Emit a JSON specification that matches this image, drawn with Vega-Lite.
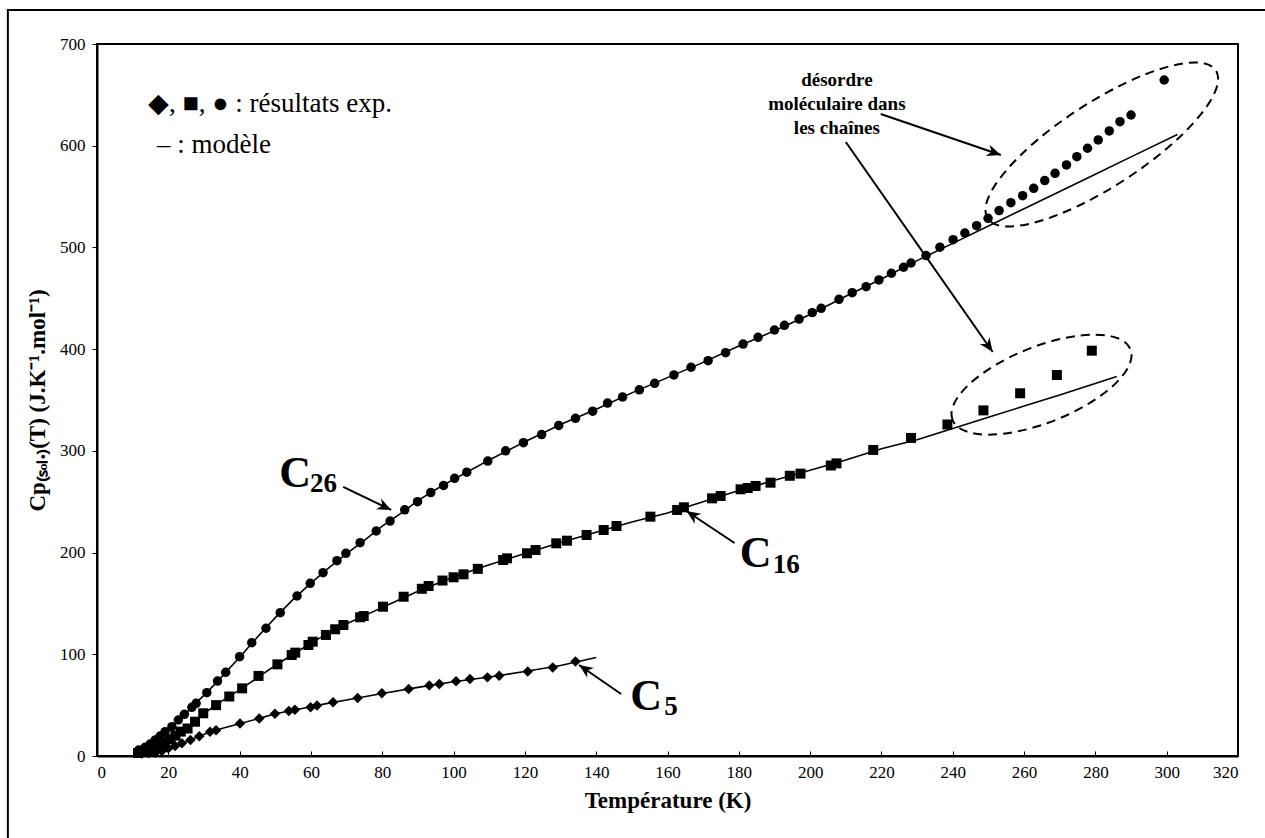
{
  "$schema": "https://vega.github.io/schema/vega-lite/v6.json",
  "width": 1141,
  "height": 712,
  "autosize": "none",
  "padding": {"left": 97, "top": 44, "right": 27, "bottom": 82},
  "background": "white",
  "config": {
    "view": {"stroke": "black", "strokeWidth": 2},
    "font": "Liberation Serif"
  },
  "datasets": {
    "pts": [
      {"s":"C26","T":11.7,"Cp":5.9},{"s":"C26","T":13.5,"Cp":8.5},{"s":"C26","T":14.9,"Cp":11.8},{"s":"C26","T":16.3,"Cp":15.7},{"s":"C26","T":17.7,"Cp":19.6},{"s":"C26","T":19.1,"Cp":23.9},{"s":"C26","T":21,"Cp":28.8},{"s":"C26","T":22.8,"Cp":35.4},{"s":"C26","T":24.5,"Cp":41},{"s":"C26","T":26.6,"Cp":47.9},{"s":"C26","T":27.8,"Cp":51.8},{"s":"C26","T":30.8,"Cp":62.3},{"s":"C26","T":33.8,"Cp":73.7},{"s":"C26","T":36.1,"Cp":82.3},{"s":"C26","T":40,"Cp":97.6},{"s":"C26","T":43.4,"Cp":111.4},{"s":"C26","T":47.4,"Cp":125.6},{"s":"C26","T":51.4,"Cp":140.9},{"s":"C26","T":56.1,"Cp":157.3},{"s":"C26","T":59.8,"Cp":169.8},{"s":"C26","T":63.4,"Cp":180.2},{"s":"C26","T":67.3,"Cp":192},{"s":"C26","T":69.8,"Cp":199.3},{"s":"C26","T":73.8,"Cp":209.7},{"s":"C26","T":78.3,"Cp":221.2},{"s":"C26","T":82.2,"Cp":231},{"s":"C26","T":86.3,"Cp":242},{"s":"C26","T":89.9,"Cp":250},{"s":"C26","T":93.6,"Cp":259},{"s":"C26","T":97.2,"Cp":266},{"s":"C26","T":100.3,"Cp":273},{"s":"C26","T":103.7,"Cp":279},{"s":"C26","T":109.6,"Cp":290},{"s":"C26","T":114.6,"Cp":300},{"s":"C26","T":119.6,"Cp":308},{"s":"C26","T":124.7,"Cp":316},{"s":"C26","T":129.5,"Cp":325},{"s":"C26","T":134.2,"Cp":332},{"s":"C26","T":139,"Cp":339},{"s":"C26","T":143.2,"Cp":347},{"s":"C26","T":147.4,"Cp":353},{"s":"C26","T":152.1,"Cp":360},{"s":"C26","T":156.4,"Cp":366.4},{"s":"C26","T":161.8,"Cp":374.6},{"s":"C26","T":166.6,"Cp":382.2},{"s":"C26","T":171.4,"Cp":388.7},{"s":"C26","T":176.3,"Cp":396.5},{"s":"C26","T":181.2,"Cp":405},{"s":"C26","T":185.4,"Cp":411.6},{"s":"C26","T":190,"Cp":418.8},{"s":"C26","T":192.8,"Cp":423.4},{"s":"C26","T":196.9,"Cp":429.6},{"s":"C26","T":200.6,"Cp":435.9},{"s":"C26","T":203.1,"Cp":440.1},{"s":"C26","T":208.1,"Cp":449},{"s":"C26","T":211.8,"Cp":455.5},{"s":"C26","T":215.7,"Cp":461.4},{"s":"C26","T":219.3,"Cp":468},{"s":"C26","T":222.8,"Cp":474.6},{"s":"C26","T":226.2,"Cp":480.5},{"s":"C26","T":228.3,"Cp":484.7},{"s":"C26","T":232.5,"Cp":492},{"s":"C26","T":236.4,"Cp":500.2},{"s":"C26","T":240.1,"Cp":507.6},{"s":"C26","T":243.4,"Cp":514.2},{"s":"C26","T":246.7,"Cp":521.4},{"s":"C26","T":249.9,"Cp":528.6},{"s":"C26","T":253,"Cp":536.2},{"s":"C26","T":256.3,"Cp":544},{"s":"C26","T":259.6,"Cp":550.9},{"s":"C26","T":262.7,"Cp":558.1},{"s":"C26","T":265.8,"Cp":565.7},{"s":"C26","T":268.7,"Cp":572.9},{"s":"C26","T":271.9,"Cp":581.1},{"s":"C26","T":274.8,"Cp":589.2},{"s":"C26","T":277.8,"Cp":597.5},{"s":"C26","T":280.8,"Cp":605.7},{"s":"C26","T":283.9,"Cp":614.5},{"s":"C26","T":286.9,"Cp":623.6},{"s":"C26","T":290,"Cp":630.2},{"s":"C26","T":299.3,"Cp":664.6},
      {"s":"C16","T":11.5,"Cp":3},{"s":"C16","T":13,"Cp":4.5},{"s":"C16","T":14.5,"Cp":6.5},{"s":"C16","T":16,"Cp":8.5},{"s":"C16","T":17.5,"Cp":11},{"s":"C16","T":19,"Cp":13.5},{"s":"C16","T":20.5,"Cp":16.5},{"s":"C16","T":22,"Cp":20},{"s":"C16","T":23.5,"Cp":24},{"s":"C16","T":25.4,"Cp":27},{"s":"C16","T":27.5,"Cp":33.7},{"s":"C16","T":29.8,"Cp":42},{"s":"C16","T":33.4,"Cp":50},{"s":"C16","T":37.1,"Cp":58.5},{"s":"C16","T":40.7,"Cp":66.5},{"s":"C16","T":45.3,"Cp":78.7},{"s":"C16","T":50.6,"Cp":90.1},{"s":"C16","T":54.6,"Cp":99.3},{"s":"C16","T":55.6,"Cp":101.6},{"s":"C16","T":59.3,"Cp":109.1},{"s":"C16","T":60.5,"Cp":112.4},{"s":"C16","T":64.2,"Cp":119},{"s":"C16","T":66.8,"Cp":124.6},{"s":"C16","T":69.1,"Cp":128.8},{"s":"C16","T":73.8,"Cp":136.4},{"s":"C16","T":74.8,"Cp":137.6},{"s":"C16","T":80.2,"Cp":146.8},{"s":"C16","T":86,"Cp":156.6},{"s":"C16","T":91.1,"Cp":164.4},{"s":"C16","T":93,"Cp":167.1},{"s":"C16","T":96.9,"Cp":172.5},{"s":"C16","T":100,"Cp":175.7},{"s":"C16","T":102.8,"Cp":178.6},{"s":"C16","T":106.8,"Cp":184},{"s":"C16","T":113.9,"Cp":192.7},{"s":"C16","T":115,"Cp":194.3},{"s":"C16","T":120.6,"Cp":199.3},{"s":"C16","T":123,"Cp":202.5},{"s":"C16","T":128.8,"Cp":209.1},{"s":"C16","T":131.8,"Cp":211.7},{"s":"C16","T":137.3,"Cp":217.3},{"s":"C16","T":142.1,"Cp":222.2},{"s":"C16","T":145.7,"Cp":226.1},{"s":"C16","T":155.2,"Cp":235.3},{"s":"C16","T":162.7,"Cp":241.9},{"s":"C16","T":164.6,"Cp":244.5},{"s":"C16","T":172.5,"Cp":253.3},{"s":"C16","T":174.9,"Cp":255.6},{"s":"C16","T":180.5,"Cp":262.2},{"s":"C16","T":182.5,"Cp":263.5},{"s":"C16","T":184.7,"Cp":265.5},{"s":"C16","T":188.9,"Cp":268.7},{"s":"C16","T":194.3,"Cp":275.5},{"s":"C16","T":197.3,"Cp":277.6},{"s":"C16","T":205.8,"Cp":285.6},{"s":"C16","T":207.4,"Cp":287.7},{"s":"C16","T":217.7,"Cp":300.9},{"s":"C16","T":228.3,"Cp":312.7},{"s":"C16","T":238.5,"Cp":325.9},{"s":"C16","T":248.6,"Cp":339.8},{"s":"C16","T":258.9,"Cp":356.6},{"s":"C16","T":269.2,"Cp":374.6},{"s":"C16","T":279,"Cp":398.5},
      {"s":"C5","T":12.6,"Cp":2.5},{"s":"C5","T":14.5,"Cp":3},{"s":"C5","T":16.4,"Cp":3.5},{"s":"C5","T":18.2,"Cp":5},{"s":"C5","T":20,"Cp":7.5},{"s":"C5","T":21.9,"Cp":9.8},{"s":"C5","T":23.8,"Cp":12.5},{"s":"C5","T":26.2,"Cp":15.7},{"s":"C5","T":28.7,"Cp":19.5},{"s":"C5","T":31.7,"Cp":23.9},{"s":"C5","T":33.4,"Cp":25.3},{"s":"C5","T":40.1,"Cp":31.9},{"s":"C5","T":45.5,"Cp":36.8},{"s":"C5","T":49.9,"Cp":41.6},{"s":"C5","T":53.8,"Cp":44.2},{"s":"C5","T":55.5,"Cp":45.5},{"s":"C5","T":59.9,"Cp":48},{"s":"C5","T":61.7,"Cp":49.7},{"s":"C5","T":66.2,"Cp":52.9},{"s":"C5","T":73.1,"Cp":57.1},{"s":"C5","T":79.9,"Cp":61.7},{"s":"C5","T":87.4,"Cp":65.9},{"s":"C5","T":93.2,"Cp":69.2},{"s":"C5","T":96,"Cp":70.8},{"s":"C5","T":100.7,"Cp":73.4},{"s":"C5","T":104.6,"Cp":75.6},{"s":"C5","T":109.5,"Cp":77.3},{"s":"C5","T":112.8,"Cp":79},{"s":"C5","T":120.8,"Cp":83},{"s":"C5","T":127.8,"Cp":87},{"s":"C5","T":134.2,"Cp":92.9}
    ],
    "model": [
      {"s":"C26","T":12,"Cp":5},{"s":"C26","T":14,"Cp":9},{"s":"C26","T":16,"Cp":15},{"s":"C26","T":18,"Cp":20},{"s":"C26","T":20,"Cp":26},{"s":"C26","T":22,"Cp":32},{"s":"C26","T":25,"Cp":42},{"s":"C26","T":28,"Cp":53},{"s":"C26","T":31,"Cp":63},{"s":"C26","T":35,"Cp":78},{"s":"C26","T":40,"Cp":97},{"s":"C26","T":45,"Cp":117},{"s":"C26","T":50,"Cp":136},{"s":"C26","T":55,"Cp":154},{"s":"C26","T":60,"Cp":170},{"s":"C26","T":65,"Cp":185},{"s":"C26","T":70,"Cp":199},{"s":"C26","T":75,"Cp":212},{"s":"C26","T":80,"Cp":226},{"s":"C26","T":85,"Cp":238},{"s":"C26","T":90,"Cp":251},{"s":"C26","T":95,"Cp":262},{"s":"C26","T":100,"Cp":272},{"s":"C26","T":110,"Cp":291},{"s":"C26","T":120,"Cp":309},{"s":"C26","T":130,"Cp":326},{"s":"C26","T":140,"Cp":341},{"s":"C26","T":150,"Cp":357},{"s":"C26","T":160,"Cp":372},{"s":"C26","T":170,"Cp":387},{"s":"C26","T":180,"Cp":403},{"s":"C26","T":190,"Cp":418},{"s":"C26","T":200,"Cp":434},{"s":"C26","T":210,"Cp":452},{"s":"C26","T":220,"Cp":469},{"s":"C26","T":230,"Cp":487},{"s":"C26","T":240,"Cp":504},{"s":"C26","T":250,"Cp":521},{"s":"C26","T":260,"Cp":538},{"s":"C26","T":270,"Cp":555},{"s":"C26","T":280,"Cp":572},{"s":"C26","T":290,"Cp":589},{"s":"C26","T":303,"Cp":611},
      {"s":"C16","T":12,"Cp":3},{"s":"C16","T":15,"Cp":7},{"s":"C16","T":18,"Cp":12},{"s":"C16","T":21,"Cp":18},{"s":"C16","T":24,"Cp":25},{"s":"C16","T":27,"Cp":33},{"s":"C16","T":30,"Cp":42},{"s":"C16","T":35,"Cp":54},{"s":"C16","T":40,"Cp":65},{"s":"C16","T":45,"Cp":77},{"s":"C16","T":50,"Cp":89},{"s":"C16","T":55,"Cp":100},{"s":"C16","T":60,"Cp":111},{"s":"C16","T":65,"Cp":121},{"s":"C16","T":70,"Cp":130},{"s":"C16","T":75,"Cp":138},{"s":"C16","T":80,"Cp":146},{"s":"C16","T":90,"Cp":162},{"s":"C16","T":100,"Cp":176},{"s":"C16","T":110,"Cp":188},{"s":"C16","T":120,"Cp":199},{"s":"C16","T":130,"Cp":210},{"s":"C16","T":140,"Cp":220},{"s":"C16","T":150,"Cp":230},{"s":"C16","T":160,"Cp":239},{"s":"C16","T":170,"Cp":250},{"s":"C16","T":180,"Cp":261},{"s":"C16","T":190,"Cp":271},{"s":"C16","T":200,"Cp":281},{"s":"C16","T":210,"Cp":291},{"s":"C16","T":220,"Cp":302},{"s":"C16","T":230,"Cp":311},{"s":"C16","T":240,"Cp":322},{"s":"C16","T":250,"Cp":333},{"s":"C16","T":260,"Cp":344},{"s":"C16","T":270,"Cp":355},{"s":"C16","T":286,"Cp":373},
      {"s":"C5","T":12,"Cp":2},{"s":"C5","T":16,"Cp":3.5},{"s":"C5","T":20,"Cp":7},{"s":"C5","T":24,"Cp":12.5},{"s":"C5","T":28,"Cp":18.5},{"s":"C5","T":32,"Cp":24},{"s":"C5","T":36,"Cp":28},{"s":"C5","T":40,"Cp":31.8},{"s":"C5","T":45,"Cp":36.5},{"s":"C5","T":50,"Cp":41.5},{"s":"C5","T":55,"Cp":45},{"s":"C5","T":60,"Cp":48.5},{"s":"C5","T":65,"Cp":52},{"s":"C5","T":70,"Cp":55},{"s":"C5","T":80,"Cp":61.5},{"s":"C5","T":90,"Cp":67.5},{"s":"C5","T":100,"Cp":73},{"s":"C5","T":110,"Cp":77.7},{"s":"C5","T":120,"Cp":83},{"s":"C5","T":130,"Cp":89},{"s":"C5","T":140,"Cp":96.8}
    ],
    "notes": [
      {"role":"legend","T":14.3,"Cp":633.2,"text":"◆, ■, ● : résultats exp."},
      {"role":"legend","T":16.8,"Cp":593,"text":"– : modèle"},
      {"role":"big","T":55.6,"Cp":264.8,"text":"C"},
      {"role":"sub","T":63.5,"Cp":259.9,"text":"26"},
      {"role":"big","T":184.7,"Cp":186.1,"text":"C"},
      {"role":"sub","T":193.3,"Cp":180.2,"text":"16"},
      {"role":"big","T":154,"Cp":45,"text":"C"},
      {"role":"sub","T":161,"Cp":40,"text":"5"},
      {"role":"note","T":207.5,"Cp":658.7,"text":"désordre"},
      {"role":"note","T":207.5,"Cp":635.1,"text":"moléculaire dans"},
      {"role":"note","T":207.5,"Cp":611.5,"text":"les chaînes"}
    ],
    "arrows": [
      {"id":"c26","T":69.05,"Cp":264.5,"T2":82.5,"Cp2":241.9},
      {"id":"c16","T":178.8,"Cp":209.4,"T2":165.3,"Cp2":240.9},
      {"id":"c5","T":147,"Cp":61,"T2":135.2,"Cp2":89.5},
      {"id":"up","T":219.8,"Cp":631.2,"T2":253.5,"Cp2":590.9},
      {"id":"low","T":210,"Cp":603.7,"T2":251.2,"Cp2":397.2}
    ],
    "zones": [
      {"id":"upper","T":281.8,"Cp":601.2},
      {"id":"lower","T":264.9,"Cp":365.1}
    ],
    "frame": [
      {"T":-25,"Cp":733.5,"T2":330.7,"Cp2":-90}
    ]
  },
  "encoding": {
    "x": {
      "field": "T", "type": "quantitative",
      "scale": {"domain": [0, 320], "nice": false, "zero": false},
      "axis": {
        "title": "Température (K)",
        "values": [0,20,40,60,80,100,120,140,160,180,200,220,240,260,280,300,320],
        "grid": false, "domainColor": "black", "domainWidth": 2,
        "tickColor": "black", "tickSize": -5, "tickWidth": 1,
        "labelFont": "Liberation Serif", "labelFontSize": 17, "labelColor": "black", "labelPadding": 13,
        "titleFont": "Liberation Serif", "titleFontSize": 23, "titleFontWeight": "bold", "titleColor": "black", "titlePadding": 9
      }
    },
    "y": {
      "field": "Cp", "type": "quantitative",
      "scale": {"domain": [0, 700], "nice": false},
      "axis": {
        "title": "Cp₍ₛₒₗ.₎(T) (J.K⁻¹.mol⁻¹)",
        "values": [0,100,200,300,400,500,600,700],
        "grid": false, "domainColor": "black", "domainWidth": 2,
        "tickColor": "black", "tickSize": 5, "tickWidth": 1,
        "labelFont": "Liberation Serif", "labelFontSize": 17, "labelColor": "black", "labelPadding": 7,
        "titleFont": "Liberation Serif", "titleFontSize": 23, "titleFontWeight": "bold", "titleColor": "black", "titlePadding": 10
      }
    }
  },
  "layer": [
    {
      "data": {"name": "frame"},
      "mark": {"type": "rect", "fill": "white", "fillOpacity": 0, "stroke": "black", "strokeWidth": 2, "clip": false},
      "encoding": {"x2": {"field": "T2"}, "y2": {"field": "Cp2"}}
    },
    {
      "data": {"name": "model"},
      "mark": {"type": "line", "color": "black", "strokeWidth": 1.6},
      "encoding": {"detail": {"field": "s"}, "order": {"field": "T", "type": "quantitative"}}
    },
    {
      "data": {"name": "pts"},
      "mark": {"type": "point", "filled": true, "color": "black", "opacity": 1},
      "encoding": {
        "shape": {"field": "s", "type": "nominal", "scale": {"domain": ["C5","C16","C26"], "range": ["diamond","square","circle"]}, "legend": null},
        "size": {"field": "s", "type": "nominal", "scale": {"domain": ["C5","C16","C26"], "range": [110, 90, 85]}, "legend": null}
      }
    },
    {
      "data": {"name": "notes"},
      "transform": [{"filter": "datum.role === 'legend'"}],
      "mark": {"type": "text", "align": "left", "baseline": "alphabetic", "font": "Liberation Serif", "fontSize": 27, "color": "black"},
      "encoding": {"text": {"field": "text"}}
    },
    {
      "data": {"name": "notes"},
      "transform": [{"filter": "datum.role === 'big'"}],
      "mark": {"type": "text", "align": "center", "baseline": "alphabetic", "font": "Liberation Serif", "fontWeight": "bold", "fontSize": 44, "color": "black"},
      "encoding": {"text": {"field": "text"}}
    },
    {
      "data": {"name": "notes"},
      "transform": [{"filter": "datum.role === 'sub'"}],
      "mark": {"type": "text", "align": "center", "baseline": "alphabetic", "font": "Liberation Serif", "fontWeight": "bold", "fontSize": 27, "color": "black"},
      "encoding": {"text": {"field": "text"}}
    },
    {
      "data": {"name": "notes"},
      "transform": [{"filter": "datum.role === 'note'"}],
      "mark": {"type": "text", "align": "center", "baseline": "alphabetic", "font": "Liberation Serif", "fontWeight": "bold", "fontSize": 19, "color": "black"},
      "encoding": {"text": {"field": "text"}}
    },
    {
      "data": {"name": "arrows"},
      "mark": {"type": "rule", "color": "black", "strokeWidth": 2},
      "encoding": {"x2": {"field": "T2"}, "y2": {"field": "Cp2"}}
    },
    {
      "data": {"name": "arrows"},
      "transform": [{"filter": "datum.id === 'c26'"}],
      "mark": {"type": "point", "shape": "M 0 0 L -1 -0.42 L -0.7 0 L -1 0.42 Z", "filled": true, "color": "black", "opacity": 1, "size": 784, "angle": 25.6},
      "encoding": {"x": {"field": "T2", "type": "quantitative"}, "y": {"field": "Cp2", "type": "quantitative"}}
    },
    {
      "data": {"name": "arrows"},
      "transform": [{"filter": "datum.id === 'c16'"}],
      "mark": {"type": "point", "shape": "M 0 0 L -1 -0.42 L -0.7 0 L -1 0.42 Z", "filled": true, "color": "black", "opacity": 1, "size": 784, "angle": -146.3},
      "encoding": {"x": {"field": "T2", "type": "quantitative"}, "y": {"field": "Cp2", "type": "quantitative"}}
    },
    {
      "data": {"name": "arrows"},
      "transform": [{"filter": "datum.id === 'c5'"}],
      "mark": {"type": "point", "shape": "M 0 0 L -1 -0.42 L -0.7 0 L -1 0.42 Z", "filled": true, "color": "black", "opacity": 1, "size": 784, "angle": -145.4},
      "encoding": {"x": {"field": "T2", "type": "quantitative"}, "y": {"field": "Cp2", "type": "quantitative"}}
    },
    {
      "data": {"name": "arrows"},
      "transform": [{"filter": "datum.id === 'up'"}],
      "mark": {"type": "point", "shape": "M 0 0 L -1 -0.42 L -0.7 0 L -1 0.42 Z", "filled": true, "color": "black", "opacity": 1, "size": 784, "angle": 18.9},
      "encoding": {"x": {"field": "T2", "type": "quantitative"}, "y": {"field": "Cp2", "type": "quantitative"}}
    },
    {
      "data": {"name": "arrows"},
      "transform": [{"filter": "datum.id === 'low'"}],
      "mark": {"type": "point", "shape": "M 0 0 L -1 -0.42 L -0.7 0 L -1 0.42 Z", "filled": true, "color": "black", "opacity": 1, "size": 784, "angle": 55},
      "encoding": {"x": {"field": "T2", "type": "quantitative"}, "y": {"field": "Cp2", "type": "quantitative"}}
    },
    {
      "data": {"name": "zones"},
      "transform": [{"filter": "datum.id === 'upper'"}],
      "mark": {"type": "point", "shape": "M -1 0 C -1 -0.1707 -0.5523 -0.309 0 -0.309 C 0.5523 -0.309 1 -0.1707 1 0 C 1 0.1707 0.5523 0.309 0 0.309 C -0.5523 0.309 -1 0.1707 -1 0 Z", "filled": false, "stroke": "black", "strokeWidth": 2, "strokeDash": [9, 6], "opacity": 1, "size": 73984, "angle": -33},
      "encoding": {}
    },
    {
      "data": {"name": "zones"},
      "transform": [{"filter": "datum.id === 'lower'"}],
      "mark": {"type": "point", "shape": "M -1 0 C -1 -0.2193 -0.5523 -0.397 0 -0.397 C 0.5523 -0.397 1 -0.2193 1 0 C 1 0.2193 0.5523 0.397 0 0.397 C -0.5523 0.397 -1 0.2193 -1 0 Z", "filled": false, "stroke": "black", "strokeWidth": 2, "strokeDash": [9, 6], "opacity": 1, "size": 36636, "angle": -21.7},
      "encoding": {}
    }
  ]
}
